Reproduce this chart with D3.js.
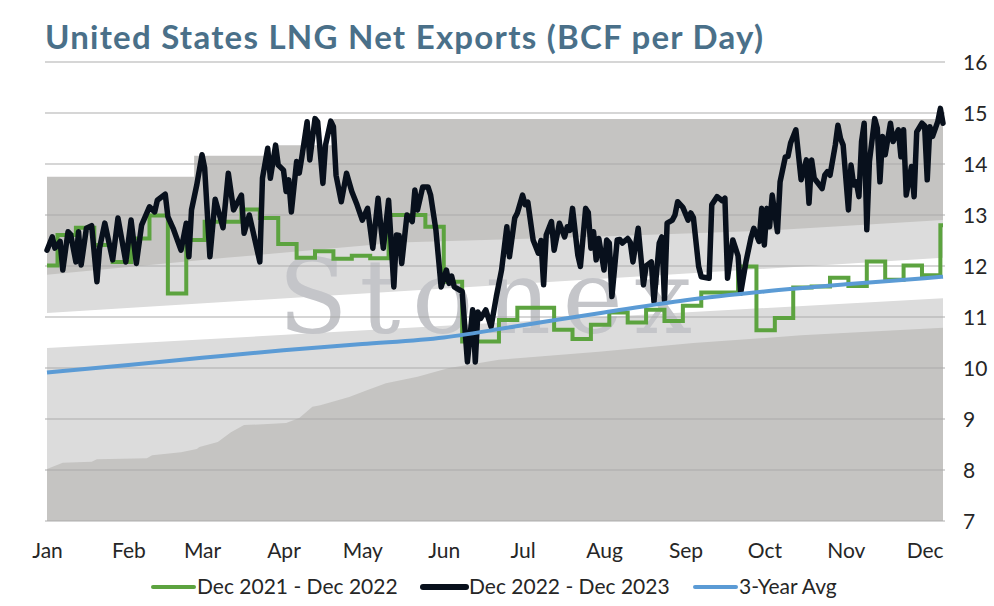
<!DOCTYPE html>
<html>
<head>
<meta charset="utf-8">
<script src="https://cdn.jsdelivr.net/npm/d3@7"></script>
<style>
  body { margin: 0; background: #fff; }
  text { font-family: Lato, "Open Sans", sans-serif; }
</style>
</head>
<body>
<div id="container"></div>
<script>
/* CONSTANTS AND GLOBALS */
const width = 994,
  height = 606,
  plotLeft = 47,
  plotRight = 943,
  plotTop = 62,
  plotBottom = 521;

/* DATA */
const months = ["Jan", "Feb", "Mar", "Apr", "May", "Jun", "Jul", "Aug", "Sep", "Oct", "Nov", "Dec"];
const yTicks = [7, 8, 9, 10, 11, 12, 13, 14, 15, 16];
const seriesNames = ["Dec 2021 - Dec 2022", "Dec 2022 - Dec 2023", "3-Year Avg"];

// day of year -> value, Dec 2022 - Dec 2023 (black)
const blackDays = [0, 2, 3, 5, 6, 8, 9, 11, 12, 13, 15, 17, 19, 20, 22, 25, 27, 30, 32, 34,
  36, 39, 41, 42, 45, 46, 48, 51, 53, 54, 55, 57, 59, 60, 62, 64, 67, 69, 71, 74,
  75, 77, 81, 82, 84, 85, 87, 88, 90, 91, 92, 93, 95, 96, 97, 99, 100, 102, 103, 105,
  106, 108, 109, 110, 112, 114, 116, 118, 120, 122, 124, 126, 127, 128, 130, 132, 133, 134, 135, 137,
  139, 140, 141, 143, 145, 146, 148, 150, 152, 153, 154, 155, 158, 160, 162, 163, 164, 165, 167, 169,
  171, 173, 175, 176, 178, 179, 181, 182, 183, 185, 187, 188, 189, 190, 192, 193, 195, 197, 198, 199,
  200, 202, 203, 205, 206, 207, 208, 209, 210, 212, 213, 214, 215, 217, 218, 219, 221, 222, 223, 225,
  227, 228, 230, 231, 233, 234, 235, 236, 238, 239, 240, 242, 244, 245, 246, 248, 249, 252, 253, 255,
  257, 258, 259, 261, 263, 264, 266, 268, 269, 271, 272, 273, 274, 275, 276, 278, 279, 281, 282, 283,
  285, 287, 289, 290, 291, 292, 295, 296, 297, 298, 300, 301, 302, 303, 305, 306, 307, 308, 309, 310,
  311, 312, 313, 315, 316, 317, 318, 319, 321, 322, 324, 325, 326, 327, 329, 330, 331, 333, 334, 335,
  336, 337, 339, 340, 341];
const blackVals = [12.31, 12.57, 12.35, 12.48, 11.92, 12.67, 12.62, 12.08, 12.67, 12.02, 12.74, 12.79, 11.69, 12.35, 12.84, 12.12, 12.94, 12.08, 12.90, 12.05,
  12.80, 13.16, 13.06, 13.29, 13.41, 12.97, 12.74, 12.31, 12.84, 12.18, 13.10, 13.59, 14.18, 13.92, 12.18, 13.31, 12.75, 13.82, 13.10, 13.39,
  12.64, 13.00, 12.08, 13.72, 14.31, 13.72, 14.37, 13.98, 13.88, 13.46, 13.69, 13.06, 14.05, 13.82, 14.14, 14.83, 14.08, 14.89, 14.83, 13.62,
  14.37, 14.84, 14.73, 13.78, 13.26, 13.82, 13.46, 13.20, 12.90, 13.13, 12.35, 13.33, 12.80, 12.35, 13.29, 11.59, 12.61, 12.60, 12.05, 13.00,
  12.87, 13.49, 13.10, 13.55, 13.55, 13.39, 12.71, 11.59, 11.92, 11.66, 11.80, 11.59, 11.50, 10.12, 11.14, 10.12, 11.10, 10.97, 11.14, 10.81,
  11.40, 11.92, 12.77, 12.18, 12.94, 13.04, 13.39, 13.20, 13.25, 12.51, 12.25, 12.50, 11.63, 12.61, 12.87, 12.31, 12.84, 12.57, 12.77, 12.70,
  13.13, 12.22, 11.99, 13.13, 13.05, 12.35, 12.67, 12.12, 12.54, 11.92, 12.51, 12.45, 11.40, 12.51, 12.52, 12.45, 12.54, 12.46, 12.08, 12.74,
  11.63, 12.00, 12.08, 11.30, 12.45, 12.57, 11.33, 12.84, 12.90, 13.00, 13.26, 13.15, 12.90, 13.04, 12.95, 11.99, 11.79, 11.76, 13.20, 13.36,
  13.28, 13.33, 11.76, 12.51, 12.20, 11.47, 12.08, 12.57, 12.74, 12.48, 13.13, 12.41, 13.13, 12.77, 13.39, 12.67, 13.65, 14.14, 14.15, 14.41,
  14.67, 13.69, 14.08, 13.23, 14.08, 13.72, 13.52, 13.78, 13.85, 13.78, 14.37, 14.76, 14.50, 14.37, 13.10, 13.98, 13.59, 13.65, 13.36, 14.44,
  14.80, 12.71, 14.05, 14.89, 14.70, 13.65, 14.54, 14.18, 14.80, 14.44, 14.67, 14.14, 14.67, 13.39, 13.95, 13.36, 14.63, 14.80, 14.75, 13.69,
  14.73, 14.54, 14.83, 15.09, 14.80];

// Dec 2021 - Dec 2022 (green), weekly steps
const greenDays = [0, 4, 11, 18, 25, 32, 39, 46, 53, 60, 67, 74, 81, 88, 95, 102, 109, 116, 123, 130,
  137, 144, 151, 158, 165, 172, 179, 186, 193, 200, 207, 214, 221, 228, 235, 242, 249, 256, 263, 270,
  277, 284, 291, 298, 305, 312, 319, 326, 333, 340];
const greenVals = [12.01, 12.61, 12.75, 12.41, 12.08, 12.54, 12.99, 11.46, 12.51, 12.87, 12.87, 13.11, 12.94, 12.43, 12.16, 12.29, 12.14, 12.20, 12.15, 13.00,
  13.00, 12.77, 11.69, 10.52, 10.52, 10.94, 11.18, 11.18, 10.75, 10.57, 10.85, 11.09, 10.89, 11.14, 10.92, 11.22, 11.48, 11.48, 11.99, 10.74,
  10.98, 11.58, 11.60, 11.77, 11.61, 12.09, 11.73, 12.01, 11.82, 12.80];

// 3-Year Avg (blue)
const avgDays = [0, 31, 59, 90, 120, 151, 181, 212, 243, 273, 304, 334, 341];
const avgVals = [9.91, 10.06, 10.20, 10.35, 10.47, 10.60, 10.84, 11.09, 11.33, 11.50, 11.64, 11.76, 11.79];

// range bands, from the bottom up
const minDays = [0, 6, 17, 19, 38, 40, 51, 57, 58, 65, 70, 75, 91, 96, 101, 104, 115, 122, 129, 141, 153, 172, 210, 246, 287, 341];
const minVals = [8.02, 8.14, 8.16, 8.21, 8.23, 8.29, 8.35, 8.41, 8.45, 8.55, 8.74, 8.88, 8.92, 9.02, 9.24, 9.27, 9.43, 9.57, 9.70, 9.83, 10.00, 10.16, 10.32, 10.49, 10.64, 10.79];
const lowDays = [0, 170, 341];
const lowVals = [10.39, 10.88, 11.37];
const highDays = [0, 170, 341];
const highVals = [11.08, 11.62, 12.16];
const upperDays = [0, 68, 134, 205, 273, 341];
const upperVals = [11.83, 12.16, 12.46, 12.57, 12.69, 12.90];
const maxDays = [0, 56, 88, 109, 341];
const maxVals = [13.75, 14.16, 14.37, 14.88, 14.88];

const dayDate = d => d3.timeDay.offset(new Date(2023, 0, 1), d);
const pairs = (days, vals) => days.map((d, i) => ({ date: dayDate(d), v: vals[i] }));

/* SCALES */
const xScale = d3.scaleTime()
  .domain([new Date(2023, 0, 1), new Date(2023, 11, 8)])
  .range([plotLeft, plotRight]);

const yScale = d3.scaleLinear()
  .domain([7, 16])
  .range([plotBottom, plotTop]);

/* SVG */
const svg = d3.select("#container")
  .append("svg")
  .attr("width", width)
  .attr("height", height)
  .style("background", "#fff");

// BANDS - painted bottom-up, each filled from the 7 line
const bands = [
  { data: pairs(maxDays, maxVals), fill: "#c5c4c2", curve: d3.curveStepAfter },
  { data: pairs(upperDays, upperVals), fill: "#dcdcdc", curve: d3.curveLinear },
  { data: pairs(highDays, highVals), fill: "#ffffff", curve: d3.curveLinear },
  { data: pairs(lowDays, lowVals), fill: "#dcdcdc", curve: d3.curveLinear },
  { data: pairs(minDays, minVals), fill: "#c5c4c2", curve: d3.curveLinear }
];

bands.forEach(b => {
  const area = d3.area()
    .curve(b.curve)
    .x(d => xScale(d.date))
    .y0(yScale(7))
    .y1(d => yScale(d.v));
  svg.append("path")
    .attr("d", area(b.data))
    .attr("fill", b.fill);
});

// watermark
svg.append("text")
  .attr("x", 278)
  .attr("y", 333)
  .attr("textLength", 414)
  .attr("lengthAdjust", "spacing")
  .style("font-family", "'DejaVu Serif', 'Liberation Serif', serif")
  .style("font-size", "102px")
  .attr("fill", "#c4c5c9")
  .text("Stonex");

// GRIDLINES
svg.append("g")
  .selectAll("line")
  .data(yTicks)
  .join("line")
  .attr("x1", plotLeft - 2)
  .attr("x2", plotRight + 2)
  .attr("y1", d => yScale(d))
  .attr("y2", d => yScale(d))
  .attr("stroke", "rgba(170,170,170,0.48)")
  .attr("stroke-width", 2);

// AXES
const xAxis = d3.axisBottom(xScale)
  .ticks(d3.timeMonth.every(1))
  .tickFormat(d => months[d.getMonth()])
  .tickSize(0);

svg.append("g")
  .attr("transform", `translate(0,${plotBottom})`)
  .call(xAxis)
  .call(g => g.select(".domain").remove())
  .selectAll("text")
  .attr("y", 37)
  .attr("dy", 0)
  .style("font-family", "Lato, sans-serif")
  .style("font-size", "21px")
  .attr("fill", "#262626");

const yAxis = d3.axisRight(yScale)
  .tickValues(yTicks)
  .tickSize(0);

svg.append("g")
  .attr("transform", `translate(${plotRight},0)`)
  .call(yAxis)
  .call(g => g.select(".domain").remove())
  .selectAll("text")
  .attr("x", 20)
  .attr("dy", "0.35em")
  .style("font-family", "Lato, sans-serif")
  .style("font-size", "21px")
  .attr("fill", "#262626");

// LINES
const line = curve => d3.line()
  .curve(curve)
  .x(d => xScale(d.date))
  .y(d => yScale(d.v));

const greenData = pairs(greenDays, greenVals);
greenData.push({ date: xScale.domain()[1], v: greenVals[greenVals.length - 1] });

svg.append("path")
  .attr("d", line(d3.curveStepAfter)(greenData))
  .attr("fill", "none")
  .attr("stroke", "#5ca33f")
  .attr("stroke-width", 4);

svg.append("path")
  .attr("d", line(d3.curveLinear)(pairs(blackDays, blackVals)))
  .attr("fill", "none")
  .attr("stroke", "#08101c")
  .attr("stroke-width", 5.5)
  .attr("stroke-linejoin", "round")
  .attr("stroke-linecap", "round");

svg.append("path")
  .attr("d", line(d3.curveMonotoneX)(pairs(avgDays, avgVals)))
  .attr("fill", "none")
  .attr("stroke", "#5b9bd5")
  .attr("stroke-width", 4);

// TITLE - sized to span the same width as the original
const titleText = "United States LNG Net Exports (BCF per Day)";
const title = svg.append("text")
  .attr("x", 45)
  .attr("y", 49)
  .style("font-family", "Lato, sans-serif")
  .style("font-weight", "700")
  .style("font-size", "31px")
  .attr("fill", "#4a7089")
  .text(titleText);
const tLen = title.node().getComputedTextLength();
const tSize = Math.min(33, 31 * 718 / tLen);
title.style("font-size", `${tSize}px`);
const tLen2 = title.node().getComputedTextLength();
title.style("letter-spacing", `${(718 - tLen2) / (titleText.length - 1)}px`);

// LEGEND
const legendItems = [
  { name: seriesNames[0], color: "#5ca33f", w: 4, x: 153, x2: 194 },
  { name: seriesNames[1], color: "#08101c", w: 6, x: 423, x2: 466 },
  { name: seriesNames[2], color: "#5b9bd5", w: 4, x: 695, x2: 736 }
];

const legend = svg.append("g");
legendItems.forEach(it => {
  legend.append("line")
    .attr("x1", it.x)
    .attr("x2", it.x2)
    .attr("y1", 587)
    .attr("y2", 587)
    .attr("stroke", it.color)
    .attr("stroke-width", it.w)
    .attr("stroke-linecap", "round");
  legend.append("text")
    .attr("x", it.x2 + 3)
    .attr("y", 594)
    .style("font-size", "21px")
    .attr("fill", "#262626")
    .text(it.name);
});
</script>
</body>
</html>
